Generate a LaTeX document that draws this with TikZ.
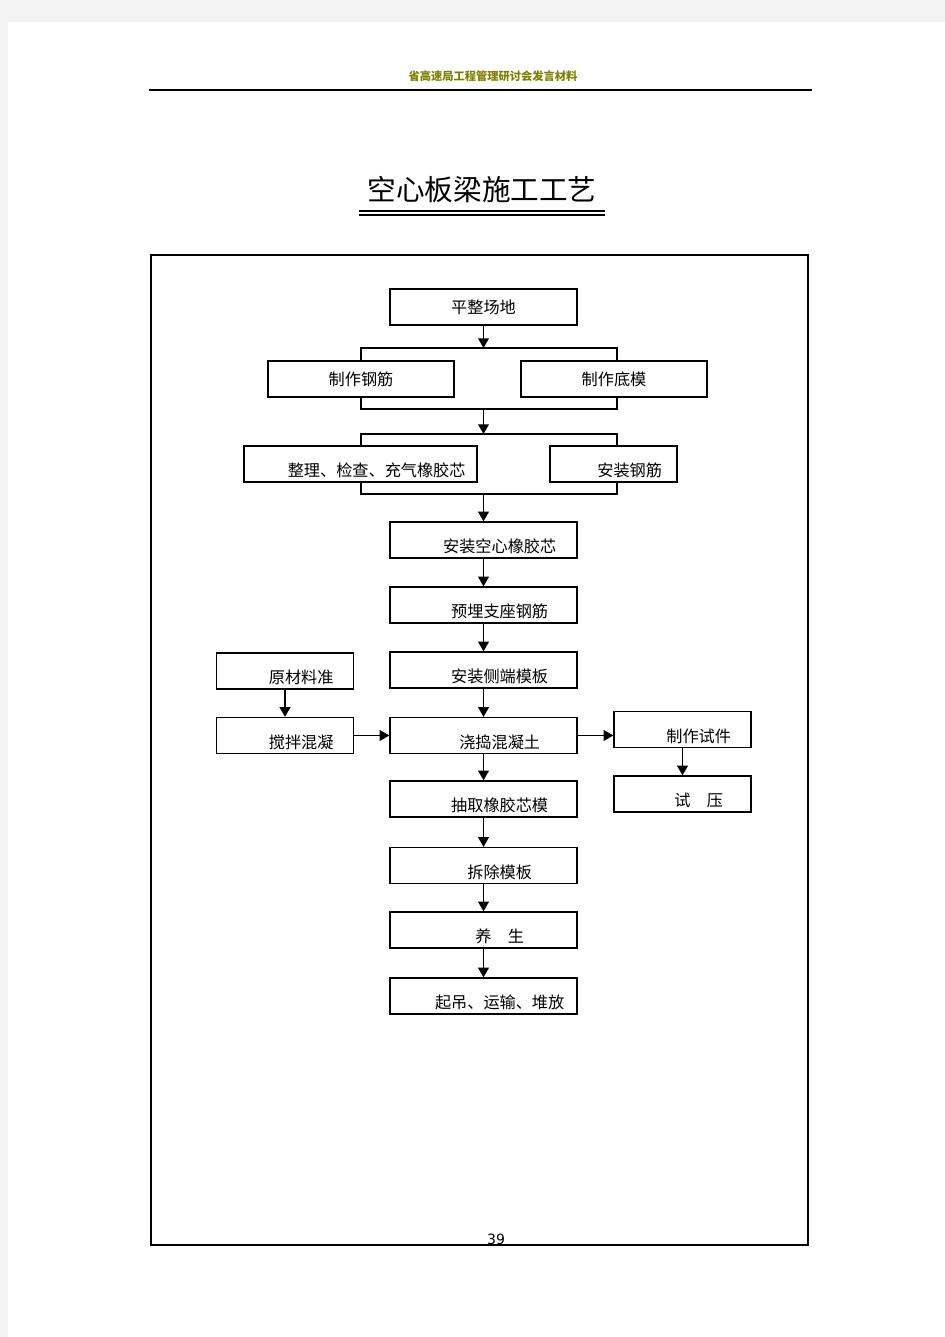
\documentclass[tikz,border=0pt]{standalone}
\usepackage{fontspec}
\newfontfamily\cjk{Noto Sans CJK SC}
\newfontfamily\numfont{DejaVu Sans}
\usetikzlibrary{arrows.meta}
\definecolor{hdrolive}{RGB}{128,128,0}
\definecolor{pagegray}{RGB}{243,243,243}
\begin{document}
\begin{tikzpicture}[x=0.02cm,y=-0.02cm,
box/.style={draw,line width=0.7pt,minimum height=0.72cm,inner sep=0pt,font=\cjk\fontsize{9.2}{11}\selectfont},
low/.style={text height=15.5pt,text depth=1.1pt},
flow/.style={-{Triangle[length=5.5pt,width=6pt]},line width=1.1pt}]
\fill[pagegray](0,0)rectangle(945,1337);
\fill[white](8,22)rectangle(945,1337);
\useasboundingbox(0,0)rectangle(945,1337);
\node[text=hdrolive,font=\cjk\bfseries\fontsize{6.4}{8}\selectfont](hdr) at(493,76){省高速局工程管理研讨会发言材料};
\draw[line width=0.9pt](149,90)--(812,90);
\node[font=\cjk\fontsize{16.3}{20}\selectfont](title) at(482,190){空心板梁施工工艺};
\draw[line width=1.1pt](359,211)--(605,211);
\draw[line width=0.7pt](359,215)--(605,215);
\draw[line width=1.2pt](151,255)rectangle(808,1245);
\node[font=\numfont\fontsize{8}{9}\selectfont](pg) at(496,1239){39};
\node[box,minimum width=3.74cm](pzcd) at(483.5,307){平整场地};
\node[box,minimum width=3.72cm](zzgj) at(361,379){制作钢筋};
\node[box,minimum width=3.72cm](zzdm) at(614,379){制作底模};
\node[box,low,minimum width=4.66cm](zljc) at(360.5,464){\hspace*{2em}整理、检查、充气橡胶芯};
\node[box,low,minimum width=2.54cm](azgj) at(613.5,464){\hspace*{2em}安装钢筋};
\node[box,low,minimum width=3.74cm](azkx) at(483.5,540){\hspace*{2em}安装空心橡胶芯};
\node[box,low,minimum width=3.74cm](ymzz) at(483.5,605){\hspace*{2em}预埋支座钢筋};
\node[box,low,minimum width=3.74cm](azcd) at(483.5,670){\hspace*{2em}安装侧端模板};
\node[box,low,minimum width=2.74cm](ycl) at(285,671){\hspace*{2em}原材料准};
\node[box,low,minimum width=2.74cm](jbhn) at(285,735.5){\hspace*{2em}搅拌混凝};
\node[box,low,minimum width=3.74cm](jdhn) at(483.5,735.5){\hspace*{2em}浇捣混凝土};
\node[box,low,minimum width=2.74cm](zzsj) at(682.5,729.5){\hspace*{2em}制作试件};
\node[box,low,minimum width=2.74cm](sy) at(682.5,794){\hspace*{2em}试\hspace{1em}压};
\node[box,low,minimum width=3.74cm](cqmx) at(483.5,799){\hspace*{2em}抽取橡胶芯模};
\node[box,low,minimum width=3.74cm](ccmb) at(483.5,865.5){\hspace*{2em}拆除模板};
\node[box,low,minimum width=3.74cm](ys) at(483.5,930){\hspace*{2em}养\hspace{1em}生};
\node[box,low,minimum width=3.74cm](qd) at(483.5,996){\hspace*{2em}起吊、运输、堆放};
\coordinate(t1) at(483.5,348);
\coordinate(b1) at(483.5,409);
\coordinate(t2) at(483.5,434);
\coordinate(b2) at(483.5,494);
\coordinate(r1) at(617,379);
\coordinate(r2) at(617,464);
\draw[flow](pzcd)--(t1);
\draw[line width=0.7pt](zzgj.north)|-(t1)-|(r1|-zzdm.north);
\draw[line width=0.7pt](zzgj.south)|-(b1)-|(r1|-zzdm.south);
\draw[flow](b1)--(t2);
\draw[line width=0.7pt](zljc.north-|zzgj)|-(t2)-|(r2|-azgj.north);
\draw[line width=0.7pt](zljc.south-|zzgj)|-(b2)-|(r2|-azgj.south);
\draw[flow](b2)--(azkx);
\draw[flow](azkx)--(ymzz);
\draw[flow](ymzz)--(azcd);
\draw[flow](azcd)--(jdhn);
\draw[flow](jdhn)--(cqmx);
\draw[flow](cqmx)--(ccmb);
\draw[flow](ccmb)--(ys);
\draw[flow](ys)--(qd);
\draw[flow](ycl)--(jbhn);
\draw[flow](jbhn)--(jdhn);
\draw[flow](jdhn.east)--(jdhn.east-|zzsj.west);
\draw[flow](zzsj)--(sy);
\end{tikzpicture}
\end{document}
